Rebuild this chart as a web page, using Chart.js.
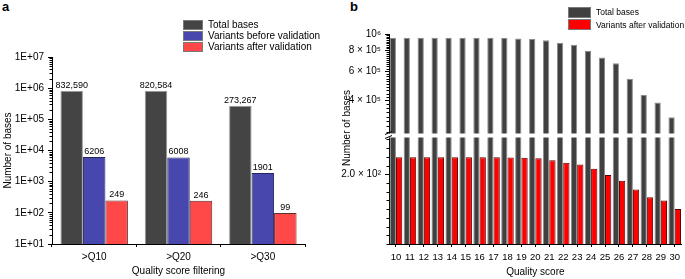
<!DOCTYPE html>
<html lang="en">
<head>
<meta charset="UTF-8">
<script src="https://cdn.jsdelivr.net/npm/chart.js"></script>
<title>Quality score filtering</title>
<style>
    body {
        margin: 0;
        width: 685px;
        height: 279px;
        position: relative;
        overflow: hidden;
        background: #fff;
        font-family: 'Liberation Sans', Arial, sans-serif;
        color: #000;
    }
    canvas { position: absolute; top: 0; }
    #chartA { left: 0; }
    #chartB { left: 340px; }
    .tag { position: absolute; top: -1px; font-weight: bold; font-size: 13px; }
    .legend { position: absolute; }
    .legend div { position: relative; white-space: nowrap; }
    .legend span { position: absolute; left: 0; box-sizing: border-box; border: 1px solid #7a7a7a; }
</style>
</head>
<body>
<div class="tag" style="left:2px">a</div>
<div class="tag" style="left:350px">b</div>
<canvas id="chartA" width="340" height="279"></canvas>
<canvas id="chartB" width="345" height="279"></canvas>
<div class="legend" id="legendA" style="left:183px; top:19px; font-size:10px"></div>
<div class="legend" id="legendB" style="left:568px; top:6px; font-size:8.5px"></div>
<script>
    // panel a
    const filterLabels = ['>Q10', '>Q20', '>Q30'];
    const totalBases = [832590, 820584, 273267];
    const variantsBefore = [6206, 6008, 1901];
    const variantsAfter = [249, 246, 99];
    const decadeTicks = [10, 100, 1000, 10000, 100000, 1000000, 10000000];

    // panel b
    const qualityScores = ['10', '11', '12', '13', '14', '15', '16', '17', '18', '19', '20',
        '21', '22', '23', '24', '25', '26', '27', '28', '29', '30'];
    const totalByScore = [950000, 950000, 950000, 950000, 950000, 950000, 950000, 950000, 950000,
        940000, 933000, 917000, 884000, 862000, 794000, 723000, 668000, 539000, 433000, 389000, 317000];
    const variantsByScore = [249, 249, 249, 249, 249, 249, 249, 249, 248, 247, 246,
        240, 233, 228, 216, 198, 181, 156, 134, 125, 100];
    const upperTicks = [400000, 600000, 800000, 1000000];
    const lowerTicks = [200];
    const upperMin = 246700;
    const lowerMax = 311;

    const FONT = "'Liberation Sans', Arial, sans-serif";
    const SUP = { '0': '⁰', '1': '¹', '2': '²', '3': '³', '4': '⁴', '5': '⁵', '6': '⁶', '7': '⁷', '8': '⁸', '9': '⁹' };

    function sci(v, digits) {
        const e = Math.floor(Math.log10(v) + 1e-9);
        const m = v / Math.pow(10, e);
        const pow = '10' + String(e).split('').map(c => SUP[c]).join('');
        if (m === 1 && !digits) return pow;
        return m.toFixed(digits || 0) + ' × ' + pow;
    }

    // short unlabelled ticks on the left of an axis
    function minorTicks(list) {
        return {
            id: 'minorTicks',
            afterDatasetsDraw(chart) {
                const ctx = chart.ctx;
                const x = chart.chartArea.left;
                ctx.save();
                ctx.strokeStyle = '#000';
                ctx.lineWidth = 1;
                ctx.beginPath();
                list.forEach(item => {
                    const scale = chart.scales[item.axis];
                    item.values.forEach(v => {
                        const y = Math.round(scale.getPixelForValue(v)) + 0.5;
                        if (y < scale.top - 0.5 || y > scale.bottom + 0.5) return;
                        ctx.moveTo(x - 2.5, y);
                        ctx.lineTo(x, y);
                    });
                });
                ctx.stroke();
                ctx.restore();
            }
        };
    }

    function makeLegend(id, datasets, boxW, boxH, rowH) {
        const box = document.getElementById(id);
        datasets.forEach(ds => {
            const row = document.createElement('div');
            row.style.height = rowH + 'px';
            row.style.lineHeight = rowH + 'px';
            row.style.paddingLeft = (boxW + 5) + 'px';
            const sw = document.createElement('span');
            sw.style.width = boxW + 'px';
            sw.style.height = boxH + 'px';
            sw.style.top = ((rowH - boxH) / 2) + 'px';
            sw.style.background = ds.backgroundColor;
            row.appendChild(sw);
            row.appendChild(document.createTextNode(ds.label));
            box.appendChild(row);
        });
    }

    const barValueLabels = {
        id: 'barValueLabels',
        afterDatasetsDraw(chart) {
            const ctx = chart.ctx;
            ctx.save();
            ctx.font = '9px ' + FONT;
            ctx.fillStyle = '#000';
            ctx.textAlign = 'center';
            ctx.textBaseline = 'bottom';
            chart.data.datasets.forEach((ds, i) => {
                chart.getDatasetMeta(i).data.forEach((bar, j) => {
                    const v = ds.data[j];
                    const txt = v >= 100000 ? v.toLocaleString('en-US') : String(v);
                    ctx.fillText(txt, bar.x, bar.y - 1);
                });
            });
            ctx.restore();
        }
    };

    const minorA = [];
    decadeTicks.slice(0, -1).forEach(d => {
        for (let k = 2; k <= 9; k++) minorA.push(d * k);
    });

    const chartA = new Chart(document.getElementById('chartA').getContext('2d'), {
        type: 'bar',
        data: {
            labels: filterLabels,
            datasets: [{
                label: 'Total bases',
                data: totalBases,
                backgroundColor: '#444444',
                borderColor: '#9a9a9a',
                borderWidth: 1
            }, {
                label: 'Variants before validation',
                data: variantsBefore,
                backgroundColor: '#4747ad',
                borderColor: '#25255e',
                borderWidth: 1
            }, {
                label: 'Variants after validation',
                data: variantsAfter,
                backgroundColor: '#ff4848',
                borderColor: '#5e2a2a',
                borderWidth: 1
            }]
        },
        options: {
            responsive: false,
            animation: false,
            categoryPercentage: 0.8,
            barPercentage: 1.0,
            layout: { padding: { top: 57, right: 35, left: 0, bottom: 0 } },
            plugins: { legend: { display: false }, tooltip: { enabled: false } },
            scales: {
                x: {
                    grid: { drawOnChartArea: false, tickLength: 3, color: '#000', offset: true },
                    border: { color: '#000' },
                    ticks: { color: '#000', font: { size: 10, family: FONT }, padding: 4 },
                    title: { display: true, text: 'Quality score filtering', color: '#000',
                        font: { size: 10, family: FONT }, padding: { top: 0, bottom: 2 } },
                    afterFit: s => { s.height = 35; }
                },
                y: {
                    type: 'logarithmic',
                    min: 10,
                    max: 10000000,
                    grid: { drawOnChartArea: false, tickLength: 4, color: '#000' },
                    border: { color: '#000' },
                    ticks: {
                        color: '#000',
                        font: { size: 10, family: FONT },
                        padding: 4,
                        autoSkip: false,
                        callback: v => '1E+' + String(Math.round(Math.log10(v))).padStart(2, '0')
                    },
                    afterBuildTicks: s => { s.ticks = decadeTicks.map(v => ({ value: v })); },
                    title: { display: true, text: 'Number of bases', color: '#000',
                        font: { size: 10, family: FONT }, padding: { top: 2, bottom: 0 } },
                    afterFit: s => { s.width = 52; }
                }
            }
        },
        plugins: [barValueLabels, minorTicks([{ axis: 'y', values: minorA }])]
    });

    makeLegend('legendA', chartA.data.datasets, 20, 10, 11);

    // panel b: one axis broken in two parts (log on top, linear below)
    const axisBreak = {
        id: 'axisBreak',
        afterDatasetsDraw(chart) {
            const ctx = chart.ctx;
            const y = chart.scales.yUpper.bottom;
            const left = chart.chartArea.left;
            ctx.save();
            ctx.fillStyle = '#fff';
            ctx.fillRect(left - 6, y - 2, chart.chartArea.right - left + 6, 4);
            ctx.strokeStyle = '#000';
            ctx.lineWidth = 1;
            ctx.beginPath();
            ctx.moveTo(left - 4, y - 1);
            ctx.lineTo(left + 3, y - 4);
            ctx.moveTo(left - 4, y + 3);
            ctx.lineTo(left + 3, y);
            ctx.stroke();
            ctx.font = '10px ' + FONT;
            ctx.fillStyle = '#000';
            ctx.textAlign = 'center';
            ctx.textBaseline = 'middle';
            ctx.translate(7, 128);
            ctx.rotate(-Math.PI / 2);
            ctx.fillText('Number of bases', 0, 0);
            ctx.restore();
        }
    };

    const minorUpper = [];
    for (let v = 260000; v < 1000000; v += 20000) minorUpper.push(v);
    const minorLower = [];
    for (let v = 0; v <= 300; v += 25) minorLower.push(v);

    const chartB = new Chart(document.getElementById('chartB').getContext('2d'), {
        type: 'bar',
        data: {
            labels: qualityScores,
            datasets: [{
                label: 'Total bases',
                data: totalByScore,
                yAxisID: 'yUpper',
                stack: 'total',
                backgroundColor: '#404040',
                borderColor: '#8c8c8c',
                borderWidth: 1
            }, {
                label: 'Variants after validation',
                data: variantsByScore,
                yAxisID: 'yLower',
                stack: 'variants',
                backgroundColor: '#ff0000',
                borderColor: '#5a0000',
                borderWidth: 1
            }, {
                label: 'Total bases (below break)',
                data: totalByScore.map(v => Math.min(v, lowerMax)),
                yAxisID: 'yLower',
                stack: 'total',
                backgroundColor: '#404040',
                borderColor: '#8c8c8c',
                borderWidth: 1
            }]
        },
        options: {
            responsive: false,
            animation: false,
            categoryPercentage: 0.9,
            barPercentage: 1.0,
            layout: { padding: { top: 34, right: 0, left: 0, bottom: 0 } },
            plugins: { legend: { display: false }, tooltip: { enabled: false } },
            scales: {
                x: {
                    grid: { drawOnChartArea: false, tickLength: 3, color: '#000', offset: false },
                    border: { color: '#000' },
                    ticks: { color: '#000', font: { size: 9.5, family: FONT }, padding: 5,
                        autoSkip: false, maxRotation: 0 },
                    title: { display: true, text: 'Quality score', color: '#000',
                        font: { size: 10, family: FONT }, padding: { top: 0, bottom: 1 } },
                    afterFit: s => { s.height = 35; }
                },
                yLower: {
                    type: 'linear',
                    position: 'left',
                    stack: 'v',
                    stackWeight: 108.5,
                    stacked: false,
                    min: 0,
                    max: lowerMax,
                    grid: { drawOnChartArea: false, tickLength: 4, color: '#000' },
                    border: { color: '#000' },
                    ticks: { color: '#000', font: { size: 10, family: FONT }, padding: 4,
                        callback: v => sci(v, 1) },
                    afterBuildTicks: s => { s.ticks = lowerTicks.map(v => ({ value: v })); },
                    afterFit: s => { s.width = 49; }
                },
                yUpper: {
                    type: 'logarithmic',
                    position: 'left',
                    stack: 'v',
                    stackWeight: 101.5,
                    stacked: false,
                    min: upperMin,
                    max: 1000000,
                    grid: { drawOnChartArea: false, tickLength: 4, color: '#000' },
                    border: { color: '#000' },
                    ticks: { color: '#000', font: { size: 10, family: FONT }, padding: 4,
                        autoSkip: false, callback: v => sci(v, 0) },
                    afterBuildTicks: s => { s.ticks = upperTicks.map(v => ({ value: v })); },
                    afterFit: s => { s.width = 49; }
                }
            }
        },
        plugins: [axisBreak, minorTicks([
            { axis: 'yUpper', values: minorUpper },
            { axis: 'yLower', values: minorLower }
        ])]
    });

    makeLegend('legendB', chartB.data.datasets.slice(0, 2), 23, 11, 12.5);
</script>
</body>
</html>
